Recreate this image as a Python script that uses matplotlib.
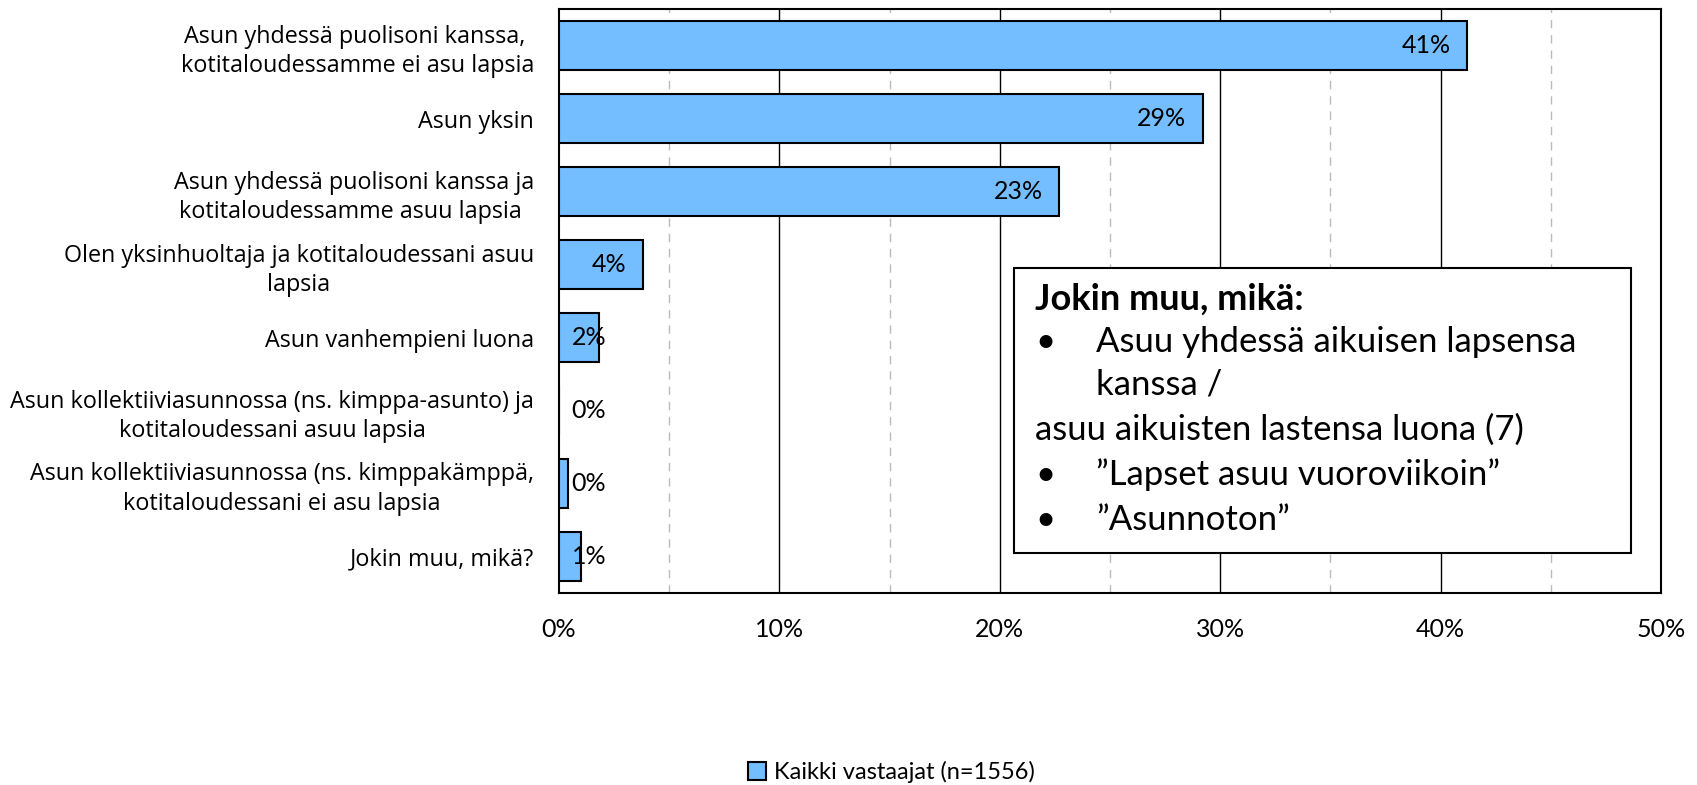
import numpy as np
import matplotlib.pyplot as plt
from matplotlib.patches import Patch

categories = ['Asun yhdessä puolisoni kanssa, \nkotitaloudessamme ei asu lapsia',
              'Asun yksin',
              'Asun yhdessä puolisoni kanssa ja\nkotitaloudessamme asuu lapsia ',
              'Olen yksinhuoltaja ja kotitaloudessani asuu\nlapsia',
              'Asun vanhempieni luona',
              'Asun kollektiiviasunnossa (ns. kimppa-asunto) ja\nkotitaloudessani asuu lapsia',
              'Asun kollektiiviasunnossa (ns. kimppakämppä,\nkotitaloudessani ei asu lapsia',
              'Jokin muu, mikä?']
values = [41.2, 29.2, 22.7, 3.8, 1.8, 0.0, 0.4, 1.0]
value_labels = ['41%', '29%', '23%', '4%', '2%', '0%', '0%', '1%']
series_name = 'Kaikki vastaajat (n=1556)'
xticks = [0, 10, 20, 30, 40, 50]

bar_color = '#74BDFF'

fig = plt.figure(figsize=(16.97, 7.85), dpi=100)
ax = fig.add_axes([0.3294, 0.2446, 0.6494, 0.7439])

y = np.arange(len(categories))
ax.barh(y, values, height=0.67, color=bar_color, edgecolor='black', linewidth=1.5, zorder=3)

for v, lab, yi in zip(values, value_labels, y):
    ax.annotate(lab, xy=(max(v, 2.9), yi), xytext=(-12, 0), textcoords='offset points',
                ha='right', va='center', fontsize=18, family='Lato', zorder=4)

ax.set_xlim(0, 50)
ax.set_ylim(len(categories) - 0.5, -0.5)
for g in [10, 20, 30, 40]:
    ax.axvline(g, color='black', linewidth=1.0, zorder=1)
for g in [5, 15, 25, 35, 45]:
    ax.axvline(g, color='#bbbbbb', linewidth=1.0, linestyle=(0, (6, 5)), zorder=1)

ax.set_xticks(xticks)
ax.set_xticklabels([f'{t}%' for t in xticks], fontsize=18, family='Lato')
ax.set_yticks(y)
ax.set_yticklabels(categories, fontsize=16.8, family='Open Sans', linespacing=1.3,
                   multialignment='center')
ax.tick_params(axis='both', length=0)
ax.tick_params(axis='x', pad=18)
ax.tick_params(axis='y', pad=18)
for s in ax.spines.values():
    s.set_linewidth(1.5)
    s.set_color('black')

# text box with the "other" answers
box_x0, box_y0 = 1014 / 1697, 1 - 553 / 785
box_w, box_h = (1631 - 1014) / 1697, (553 - 268) / 785
fig.patches.append(plt.Rectangle((box_x0, box_y0), box_w, box_h, transform=fig.transFigure,
                                 facecolor='white', edgecolor='black', linewidth=1.5, zorder=5))
fs = 25
fig.text(1035 / 1697, 1 - 299 / 785, 'Jokin muu, mikä:', fontsize=26, fontweight='bold',
         family='Lato', va='center', zorder=6)
lines = [(True, 'Asuu yhdessä aikuisen lapsensa', 342),
         (False, 'kanssa /', 385),
         (None, 'asuu aikuisten lastensa luona (7)', 430),
         (True, '”Lapset asuu vuoroviikoin”', 475),
         (True, '”Asunnoton”', 520)]
for bullet, txt, yy in lines:
    if bullet:
        fig.text(1035 / 1697, 1 - yy / 785, '•', fontsize=fs, family='Lato', va='center', zorder=6)
    x = 1035 if bullet is None else 1096
    fig.text(x / 1697, 1 - yy / 785, txt, fontsize=fs, family='Lato', va='center', zorder=6)

fig.legend(handles=[Patch(facecolor=bar_color, edgecolor='black', linewidth=1.5, label=series_name)],
           loc='center', bbox_to_anchor=(891 / 1697, 1 - 772 / 785), frameon=False,
           prop={'family': 'Lato', 'size': 17}, handlelength=0.8, handleheight=0.8,
           handletextpad=0.3)

plt.savefig('out.png', dpi=100)
